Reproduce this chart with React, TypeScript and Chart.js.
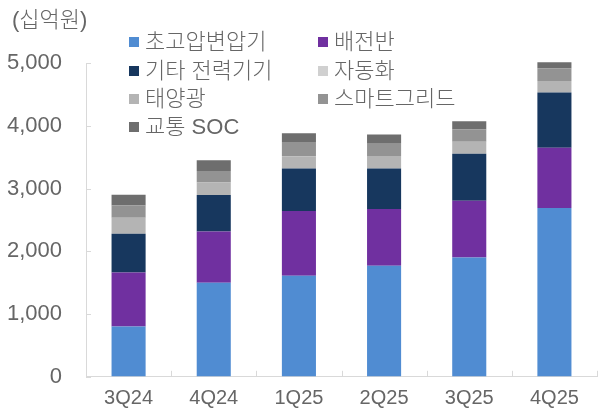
import React, { useEffect, useRef } from "react";
import { Chart, registerables } from "chart.js";

Chart.register(...registerables);

const categories = ["3Q24", "4Q24", "1Q25", "2Q25", "3Q25", "4Q25"];
const highVoltageTransformer = [800, 1500, 1610, 1770, 1900, 2690];
const switchgear = [860, 815, 1030, 905, 905, 960];
const otherPowerEquipment = [620, 580, 680, 645, 750, 880];
const automation = [0, 0, 0, 0, 0, 0];
const solar = [255, 200, 195, 200, 190, 185];
const smartGrid = [195, 185, 225, 195, 195, 200];
const transportSoc = [170, 170, 140, 145, 130, 95];
const yTicks = [0, 1000, 2000, 3000, 4000, 5000];
const unitLabel = "(십억원)";

const FONT = "'Liberation Sans', 'Noto Sans CJK KR', sans-serif";
const TEXT = "#666666";
const AXIS = "#D9D9D9";

const seriesDefs = [
  { label: "초고압변압기", data: highVoltageTransformer, color: "#508CD2" },
  { label: "배전반", data: switchgear, color: "#7030A0" },
  { label: "기타 전력기기", data: otherPowerEquipment, color: "#17375E" },
  { label: "자동화", data: automation, color: "#D0D0D0" },
  { label: "태양광", data: solar, color: "#B4B4B4" },
  { label: "스마트그리드", data: smartGrid, color: "#939393" },
  { label: "교통 SOC", data: transportSoc, color: "#6E6E6E" },
];

const overlayPlugin = {
  id: "overlay",
  afterDraw(chart: any) {
    const ctx = chart.ctx as CanvasRenderingContext2D;
    const xs = chart.scales.x;
    const ys = chart.scales.y;
    ctx.save();
    // inward tick marks
    ctx.strokeStyle = AXIS;
    ctx.lineWidth = 1;
    ys.ticks.forEach((t: any) => {
      const py = Math.round(ys.getPixelForValue(t.value)) + 0.5;
      ctx.beginPath();
      ctx.moveTo(xs.left, py);
      ctx.lineTo(xs.left + 5, py);
      ctx.stroke();
    });
    const n = categories.length;
    const w = (xs.right - xs.left) / n;
    for (let i = 1; i <= n; i++) {
      const px = Math.round(xs.left + i * w) + 0.5;
      ctx.beginPath();
      ctx.moveTo(px, ys.bottom);
      ctx.lineTo(px, ys.bottom - 6);
      ctx.stroke();
    }
    // unit label
    ctx.fillStyle = TEXT;
    ctx.font = `300 22px ${FONT}`;
    ctx.textBaseline = "middle";
    ctx.textAlign = "left";
    ctx.fillText(unitLabel, 12, 21);
    // legend
    const colX = [129, 318];
    const rowY = [42, 71, 99, 127];
    ctx.font = `300 22px ${FONT}`;
    chart.data.datasets.forEach((ds: any, i: number) => {
      const col = i % 2;
      const row = Math.floor(i / 2);
      const x0 = colX[col];
      const y0 = rowY[row];
      ctx.fillStyle = ds.backgroundColor;
      ctx.fillRect(x0, y0 - 5, 10, 10);
      ctx.fillStyle = TEXT;
      ctx.fillText(ds.label, x0 + 16, y0 + 1);
    });
    ctx.restore();
  },
};

export default function App() {
  const ref = useRef<HTMLCanvasElement>(null);
  useEffect(() => {
    if (!ref.current) return;
    const chart = new Chart(ref.current, {
      type: "bar",
      data: {
        labels: categories,
        datasets: seriesDefs.map((s) => ({
          label: s.label,
          data: s.data,
          backgroundColor: s.color,
          borderWidth: 0,
          barPercentage: 0.4,
          categoryPercentage: 1,
          clip: false as any,
        })),
      },
      options: {
        responsive: false,
        animation: false,
        layout: { padding: { top: 63, right: 8, left: 0, bottom: 0 } },
        plugins: { legend: { display: false }, title: { display: false }, tooltip: { enabled: false } },
        scales: {
          x: {
            stacked: true,
            offset: true,
            grid: { display: true, drawOnChartArea: false, drawTicks: false },
            border: { display: true, color: AXIS, width: 1 },
            ticks: { color: TEXT, font: { size: 20, family: FONT }, padding: 10, maxRotation: 0 },
            afterFit: (s: any) => { s.height = 35; },
          },
          y: {
            stacked: true,
            min: 0,
            max: 5000,
            afterBuildTicks: (s: any) => { s.ticks = yTicks.map((v) => ({ value: v })); },
            grid: { display: true, drawOnChartArea: false, drawTicks: false },
            border: { display: true, color: AXIS, width: 1 },
            ticks: {
              color: TEXT,
              font: { size: 22, family: FONT },
              padding: 24,
              callback: (v: any) => Number(v).toLocaleString("en-US"),
            },
            afterFit: (s: any) => { s.width = 86; },
          },
        },
      },
      plugins: [overlayPlugin],
    });
    return () => chart.destroy();
  }, []);
  return (
    <div style={{ position: "fixed", left: 0, top: 0, width: 605, height: 414, background: "#fff" }}>
      <canvas ref={ref} width={605} height={414} style={{ display: "block" }} />
    </div>
  );
}
